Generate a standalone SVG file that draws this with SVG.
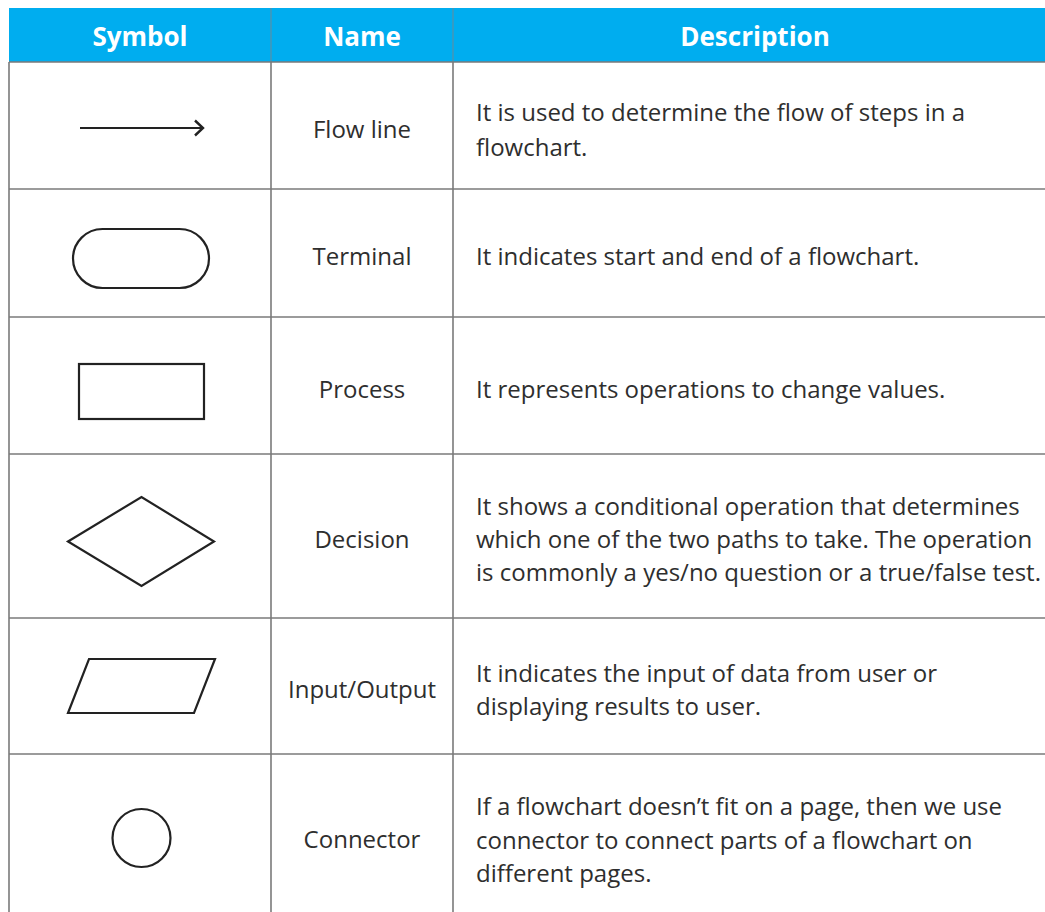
<svg xmlns="http://www.w3.org/2000/svg" width="1045" height="912" viewBox="0 0 1045 912">
  <defs>
    <style>
      .hdr { fill: #00adef; }
      .grid { stroke: #7a7a7a; stroke-width: 1.6; fill: none; }
      .hdrgrid { stroke: #5a8fa6; stroke-width: 1.2; }
      .htxt { font-family: "Open Sans", "Noto Sans", sans-serif; font-weight: bold; font-size: 26px; fill: #ffffff; text-anchor: middle; }
      .name { font-family: "Open Sans", "Noto Sans", sans-serif; font-size: 24px; fill: #2e2e2e; text-anchor: middle; dominant-baseline: central; }
      .desc { font-family: "Open Sans", "Noto Sans", sans-serif; font-size: 24px; fill: #2e2e2e; dominant-baseline: central; }
      .sym { fill: #ffffff; stroke: #222222; stroke-width: 2.2; stroke-linejoin: miter; }
    </style>
    <marker id="chev" viewBox="0 0 12 18" refX="10" refY="9" markerWidth="12" markerHeight="18" markerUnits="userSpaceOnUse" orient="auto">
      <path d="M2,1.5 L10,9 L2,16.5" fill="none" stroke="#222222" stroke-width="2.4"/>
    </marker>
  </defs>

  <rect width="1045" height="912" fill="#ffffff"/>

  <!-- header band -->
  <g id="header">
    <rect class="hdr" x="9" y="8" width="1040" height="54"/>
    <line class="hdrgrid" x1="271" y1="8" x2="271" y2="62"/>
    <line class="hdrgrid" x1="453" y1="8" x2="453" y2="62"/>
    <text class="htxt" x="140" y="46">Symbol</text>
    <text class="htxt" x="362" y="46">Name</text>
    <text class="htxt" x="755" y="46">Description</text>
  </g>

  <!-- table rules -->
  <g id="grid">
    <line class="grid" x1="9" y1="62" x2="9" y2="912"/>
    <line class="grid" x1="271" y1="62" x2="271" y2="912"/>
    <line class="grid" x1="453" y1="62" x2="453" y2="912"/>
    <line class="grid" x1="9" y1="62" x2="1045" y2="62"/>
    <line class="grid" x1="9" y1="189" x2="1045" y2="189"/>
    <line class="grid" x1="9" y1="317" x2="1045" y2="317"/>
    <line class="grid" x1="9" y1="454" x2="1045" y2="454"/>
    <line class="grid" x1="9" y1="618" x2="1045" y2="618"/>
    <line class="grid" x1="9" y1="754" x2="1045" y2="754"/>
  </g>

  <!-- flow line row -->
  <g id="row-flowline">
    <line x1="80" y1="128" x2="203" y2="128" stroke="#222222" stroke-width="2.2" marker-end="url(#chev)"/>
    <text class="name" x="362" y="128">Flow line</text>
    <text class="desc" x="476" y="111">It is used to determine the flow of steps in a</text>
    <text class="desc" x="476" y="146">flowchart.</text>
  </g>

  <!-- terminal row -->
  <g id="row-terminal">
    <rect class="sym" x="73" y="229" width="136" height="59" rx="29.5" ry="29.5"/>
    <text class="name" x="362" y="255">Terminal</text>
    <text class="desc" x="476" y="255">It indicates start and end of a flowchart.</text>
  </g>

  <!-- process row -->
  <g id="row-process">
    <rect class="sym" x="79" y="364" width="125" height="55"/>
    <text class="name" x="362" y="388">Process</text>
    <text class="desc" x="476" y="388">It represents operations to change values.</text>
  </g>

  <!-- decision row -->
  <g id="row-decision">
    <polygon class="sym" points="68,541.5 141.5,497 214,541.5 141.5,586"/>
    <text class="name" x="362" y="538">Decision</text>
    <text class="desc" x="476" y="505">It shows a conditional operation that determines</text>
    <text class="desc" x="476" y="538">which one of the two paths to take. The operation</text>
    <text class="desc" x="476" y="571">is commonly a yes/no question or a true/false test.</text>
  </g>

  <!-- input/output row -->
  <g id="row-io">
    <polygon class="sym" points="89,659 215,659 194,713 68,713"/>
    <text class="name" x="362" y="688">Input/Output</text>
    <text class="desc" x="476" y="672">It indicates the input of data from user or</text>
    <text class="desc" x="476" y="705">displaying results to user.</text>
  </g>

  <!-- connector row -->
  <g id="row-connector">
    <circle class="sym" cx="141.5" cy="838" r="29"/>
    <text class="name" x="362" y="838">Connector</text>
    <text class="desc" x="476" y="805">If a flowchart doesn’t fit on a page, then we use</text>
    <text class="desc" x="476" y="839">connector to connect parts of a flowchart on</text>
    <text class="desc" x="476" y="872">different pages.</text>
  </g>
</svg>
